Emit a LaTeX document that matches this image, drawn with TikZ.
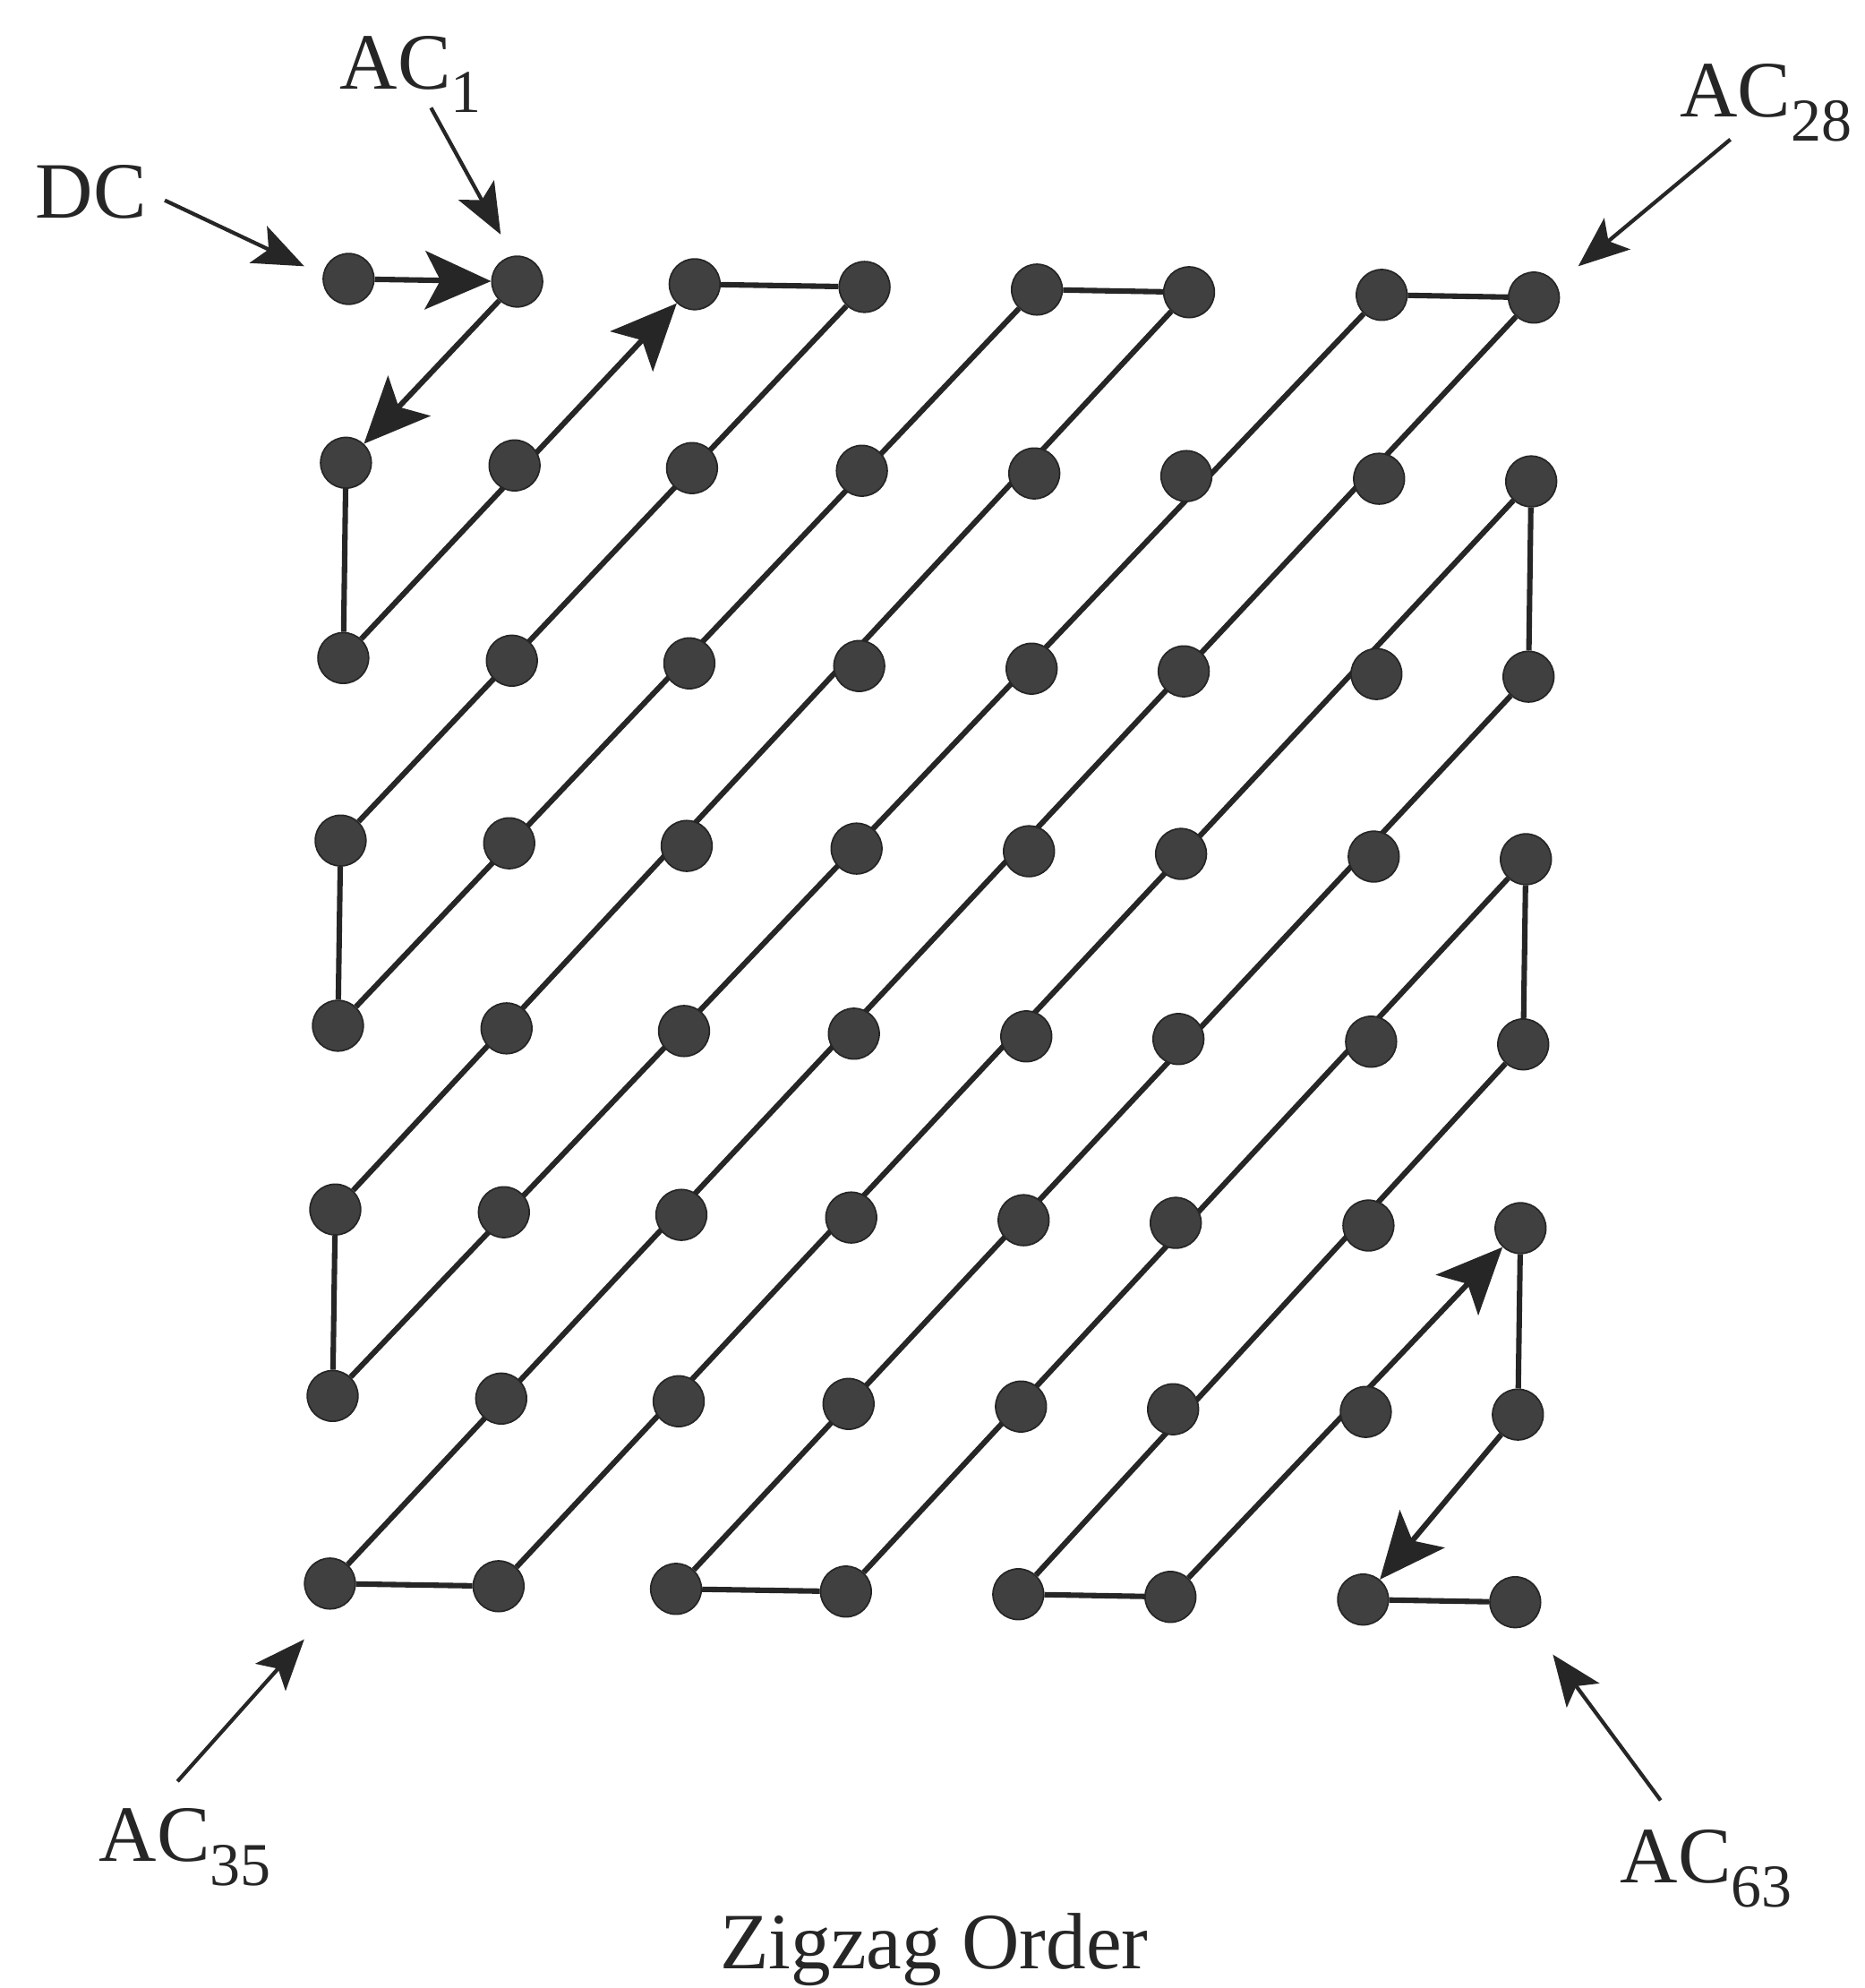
\documentclass[tikz,border=0pt]{standalone}
\usepackage{fontspec}
\setmainfont{Liberation Serif}
\usetikzlibrary{arrows.meta,backgrounds}
\definecolor{ink}{HTML}{262626}
\definecolor{dotc}{HTML}{404040}
\newcommand\subidx[1]{\raisebox{-0.3em}{\fontsize{48}{48}\selectfont #1}}
\begin{document}
\begin{tikzpicture}[x=1pt,y=-1pt,
  dot/.style={circle, fill=dotc, draw=ink, line width=1.2pt, minimum size=40pt, inner sep=0pt},
  edge/.style={draw=ink, line width=4.3pt},
  bigarrow/.style={edge, -{Stealth[length=52pt,width=46pt,inset=12pt]}},
  labarrow/.style={draw=ink, line width=3pt, -{Stealth[length=40pt,width=32pt,inset=9pt]}},
  lab/.style={font=\fontsize{63}{63}\selectfont, text=ink, inner sep=0pt, anchor=base west}]
\useasboundingbox (0,0) rectangle (1471,1568);
% grid of dots
\foreach \c in {0,...,7}{
  \foreach \r in {0,...,7}{
    \pgfmathsetmacro\xx{{275,408,548,682,818,938,1090,1210}[\c]-2.1*\r}
    \pgfmathsetmacro\yy{{220,365,519,663,809,954,1101,1249}[\r]+2.1*\c}
    \node[dot] (d\c\r) at (\xx,\yy) {};
  }
}
\begin{scope}[on background layer]
  % anti-diagonals without arrows
  \foreach \s in {3,...,11}{
    \pgfmathtruncatemacro\cmin{max(0,\s-7)}
    \pgfmathtruncatemacro\cmax{min(7,\s)}
    \pgfmathtruncatemacro\rmin{\s-\cmax}
    \pgfmathtruncatemacro\rmax{\s-\cmin}
    \draw[edge] (d\cmax\rmin) -- (d\cmin\rmax);
  }
  % top
  \draw[edge] (d20) -- (d30);
  \draw[edge] (d40) -- (d50);
  \draw[edge] (d60) -- (d70);
  % left
  \draw[edge] (d01) -- (d02);
  \draw[edge] (d03) -- (d04);
  \draw[edge] (d05) -- (d06);
  % bottom
  \draw[edge] (d07) -- (d17);
  \draw[edge] (d27) -- (d37);
  \draw[edge] (d47) -- (d57);
  \draw[edge] (d67) -- (d77);
  % right
  \draw[edge] (d71) -- (d72);
  \draw[edge] (d73) -- (d74);
  \draw[edge] (d75) -- (d76);
  % arrowed steps
  \draw[bigarrow] (d00) -- (d10);
  \draw[bigarrow] (d10) -- (d01);
  \draw[bigarrow] (d02) -- (d20);
  \draw[bigarrow] (d57) -- (d75);
  \draw[bigarrow] (d76) -- (d67);
\end{scope}
% labels
\node[lab] (DC) at (28,172) {DC};
\node[lab] (AC1) at (268,70) {AC\subidx{1}};
\node[lab] (AC28) at (1325,92) {AC\subidx{28}};
\node[lab] (AC35) at (78,1468) {AC\subidx{35}};
\node[lab] (AC63) at (1278,1485) {AC\subidx{63}};
\node[font=\fontsize{63}{63}\selectfont, text=ink, inner sep=0pt, anchor=base] (title) at (737,1553) {Zigzag Order};
% label pointers
\coordinate (dcA) at (130,158);  \coordinate (dcB) at (240,210);
\coordinate (a1A) at (340,85);   \coordinate (a1B) at (395,185);
\coordinate (a28A) at (1365,110); \coordinate (a28B) at (1245,210);
\coordinate (a35A) at (140,1405); \coordinate (a35B) at (240,1293);
\coordinate (a63A) at (1310,1420); \coordinate (a63B) at (1225,1305);
\draw[labarrow] (dcA) -- (dcB);
\draw[labarrow] (a1A) -- (a1B);
\draw[labarrow] (a28A) -- (a28B);
\draw[labarrow] (a35A) -- (a35B);
\draw[labarrow] (a63A) -- (a63B);
\end{tikzpicture}
\end{document}
